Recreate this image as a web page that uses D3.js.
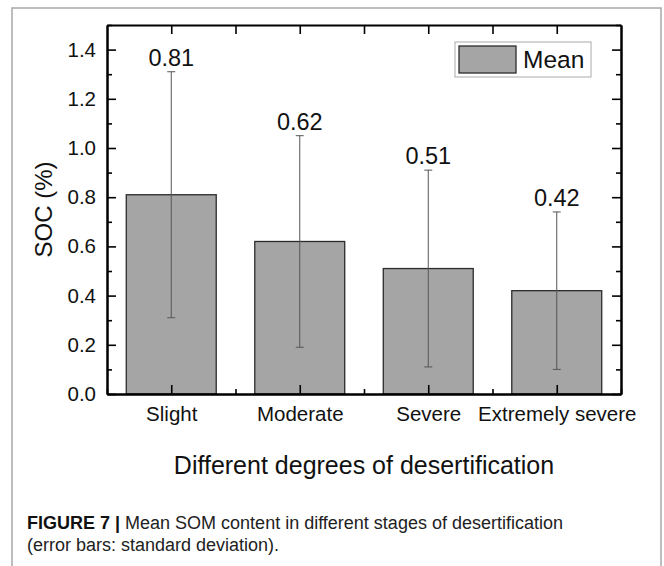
<!DOCTYPE html>
<html>
<head>
<meta charset="utf-8">
<script src="https://cdn.jsdelivr.net/npm/d3@7"></script>
<style>
  body { margin: 0; background: #fff; }
  svg { display: block; font-family: "Liberation Sans", Arial, sans-serif; }
</style>
</head>
<body>
<svg id="chart_svg" width="664" height="566"></svg>
<script>
var categories = ['Slight', 'Moderate', 'Severe', 'Extremely severe'];
var means = [0.81, 0.62, 0.51, 0.42];
var sds = [0.50, 0.43, 0.40, 0.32];
var yTicks = [0.0, 0.2, 0.4, 0.6, 0.8, 1.0, 1.2, 1.4];
var legendLabels = ['Mean'];

document.addEventListener('DOMContentLoaded', function () {
  drawBarChart();
});

function drawBarChart() {
  var svg = d3.select('#chart_svg');
  var left = 107, right = 621, top = 25, bottom = 394;

  // figure frame
  svg.append('rect')
    .attr('x', 12).attr('y', 8)
    .attr('width', 649).attr('height', 580)
    .attr('fill', 'none')
    .attr('stroke', '#a8a8a8')
    .attr('stroke-width', 1.5);

  var x = d3.scaleLinear().domain([0.5, categories.length + 0.5]).range([left, right]);
  var y = d3.scaleLinear().domain([0, 1.5]).range([bottom, top]);
  var barW = x(0.7) - x(0);

  // bars
  svg.selectAll('rect.bar')
    .data(means)
    .enter()
    .append('rect')
    .attr('class', 'bar')
    .attr('x', (d, i) => x(i + 1) - barW / 2)
    .attr('y', d => y(d))
    .attr('width', barW)
    .attr('height', d => y(0) - y(d))
    .attr('fill', '#a5a5a5')
    .attr('stroke', '#2b2b2b')
    .attr('stroke-width', 1.3);

  // error bars
  var err = svg.append('g').attr('stroke', '#555').attr('stroke-width', 1);
  means.forEach(function (m, i) {
    var cx = x(i + 1);
    err.append('line')
      .attr('x1', cx).attr('x2', cx)
      .attr('y1', y(m + sds[i])).attr('y2', y(m - sds[i]));
    [m + sds[i], m - sds[i]].forEach(function (v) {
      err.append('line')
        .attr('x1', cx - 4).attr('x2', cx + 4)
        .attr('y1', y(v)).attr('y2', y(v));
    });
  });

  // value labels
  svg.selectAll('text.val')
    .data(means)
    .enter()
    .append('text')
    .attr('class', 'val')
    .attr('x', (d, i) => x(i + 1))
    .attr('y', (d, i) => y(d + sds[i]) - 6)
    .attr('text-anchor', 'middle')
    .attr('font-size', 23.5)
    .attr('fill', '#111')
    .text(d => d3.format('.2f')(d));

  // axes, ticks pointing inward
  var xMajor = d3.range(1, categories.length + 1);
  var xMinor = d3.range(0.5, categories.length + 1, 1);

  var bAxis = d3.axisBottom(x).tickValues(xMajor).tickSizeInner(-9).tickSizeOuter(0)
    .tickFormat((d, i) => categories[i]).tickPadding(12);
  svg.append('g').attr('transform', 'translate(0,' + bottom + ')').call(bAxis);
  svg.append('g').attr('transform', 'translate(0,' + bottom + ')')
    .call(d3.axisBottom(x).tickValues(xMinor).tickSizeInner(-5).tickSizeOuter(0).tickFormat(''));

  svg.append('g').attr('transform', 'translate(0,' + top + ')')
    .call(d3.axisTop(x).tickValues(xMajor.concat(xMinor.slice(1, -1))).tickSizeInner(-9).tickSizeOuter(0).tickFormat(''));

  svg.append('g').attr('transform', 'translate(' + left + ',0)')
    .call(d3.axisLeft(y).tickValues(yTicks).tickSizeInner(-9).tickSizeOuter(0)
      .tickFormat(d3.format('.1f')).tickPadding(11));
  svg.append('g').attr('transform', 'translate(' + left + ',0)')
    .call(d3.axisLeft(y).tickValues(yTicks.map(d => d + 0.1)).tickSizeInner(-5).tickSizeOuter(0).tickFormat(''));

  svg.append('g').attr('transform', 'translate(' + right + ',0)')
    .call(d3.axisRight(y).tickValues(yTicks).tickSizeInner(-9).tickSizeOuter(0).tickFormat(''));
  svg.append('g').attr('transform', 'translate(' + right + ',0)')
    .call(d3.axisRight(y).tickValues(yTicks.map(d => d + 0.1)).tickSizeInner(-5).tickSizeOuter(0).tickFormat(''));

  svg.selectAll('.domain').attr('stroke', '#000').attr('stroke-width', 2);
  svg.selectAll('.tick line').attr('stroke', '#000').attr('stroke-width', 1.6);
  svg.selectAll('.tick text').attr('font-size', 20.5).attr('fill', '#111')
    .attr('font-family', '"Liberation Sans", Arial, sans-serif');

  // axis titles
  svg.append('text')
    .attr('transform', 'translate(52,' + (top + bottom) / 2 + ') rotate(-90)')
    .attr('text-anchor', 'middle')
    .attr('font-size', 24)
    .attr('fill', '#111')
    .text('SOC (%)');

  svg.append('text')
    .attr('x', (left + right) / 2).attr('y', 474)
    .attr('text-anchor', 'middle')
    .attr('font-size', 25)
    .attr('fill', '#111')
    .text('Different degrees of desertification');

  // legend
  var lg = svg.append('g');
  lg.append('rect')
    .attr('x', 455).attr('y', 42).attr('width', 136).attr('height', 35)
    .attr('fill', '#fff').attr('stroke', '#aaa').attr('stroke-width', 1);
  lg.selectAll('rect.sw')
    .data(legendLabels)
    .enter()
    .append('rect')
    .attr('class', 'sw')
    .attr('x', 459).attr('y', 46).attr('width', 57).attr('height', 27)
    .attr('fill', '#a5a5a5').attr('stroke', '#2b2b2b').attr('stroke-width', 1.3);
  lg.selectAll('text')
    .data(legendLabels)
    .enter()
    .append('text')
    .attr('x', 523).attr('y', 68)
    .attr('font-size', 24.5)
    .attr('fill', '#111')
    .text(d => d);

  // caption
  var cap = svg.append('text').attr('x', 27).attr('y', 529).attr('font-size', 18).attr('fill', '#222');
  cap.append('tspan').attr('font-weight', 'bold').attr('fill', '#111').text('FIGURE 7 | ');
  cap.append('tspan').text('Mean SOM content in different stages of desertification');
  svg.append('text').attr('x', 27).attr('y', 551).attr('font-size', 18).attr('fill', '#222')
    .text('(error bars: standard deviation).');
}
</script>
</body>
</html>
